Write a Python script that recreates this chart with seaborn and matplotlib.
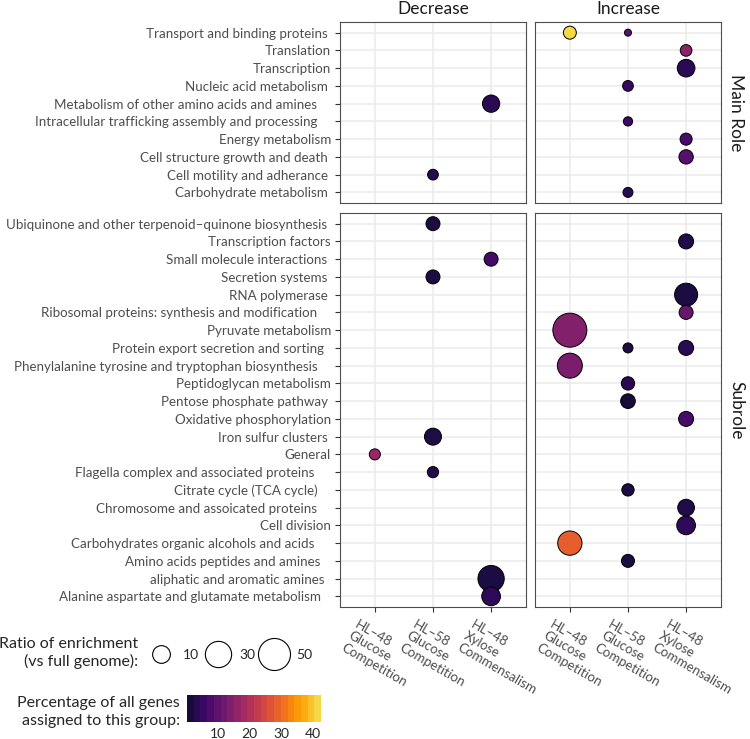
import numpy as np
import pandas as pd
import seaborn as sns
import matplotlib.pyplot as plt
from matplotlib.colors import ListedColormap, Normalize
from matplotlib.cm import ScalarMappable
from matplotlib.lines import Line2D
from matplotlib.transforms import ScaledTranslation

G48 = 'HL–48\nGlucose\nCompetition'
G58 = 'HL–58\nGlucose\nCompetition'
X48 = 'HL–48\nXylose\nCommensalism'
CONDITIONS = [G48, G58, X48]
DIRECTIONS = ['Decrease', 'Increase']

# categories, top to bottom; pads = trailing spaces seen in the tick labels
MAIN_ROLES = ['Transport and binding proteins', 'Translation', 'Transcription',
              'Nucleic acid metabolism', 'Metabolism of other amino acids and amines',
              'Intracellular trafficking assembly and processing', 'Energy metabolism',
              'Cell structure growth and death', 'Cell motility and adherance',
              'Carbohydrate metabolism']
MAIN_PAD = [1, 0, 0, 1, 4, 4, 0, 1, 1, 1]

SUBROLES = ['Ubiquinone and other terpenoid–quinone biosynthesis', 'Transcription factors',
            'Small molecule interactions', 'Secretion systems', 'RNA polymerase',
            'Ribosomal proteins: synthesis and modification', 'Pyruvate metabolism',
            'Protein export secretion and sorting',
            'Phenylalanine tyrosine and tryptophan biosynthesis', 'Peptidoglycan metabolism',
            'Pentose phosphate pathway', 'Oxidative phosphorylation', 'Iron sulfur clusters',
            'General', 'Flagella complex and associated proteins', 'Citrate cycle (TCA cycle)',
            'Chromosome and assoicated proteins', 'Cell division',
            'Carbohydrates organic alcohols and acids', 'Amino acids peptides and amines',
            'aliphatic and aromatic amines', 'Alanine aspartate and glutamate metabolism']
SUB_PAD = [1, 0, 1, 1, 1, 4, 0, 2, 4, 0, 1, 0, 1, 0, 5, 4, 4, 0, 5, 3, 2, 3]

# main role dots
main_group = ['Transport and binding proteins', 'Transport and binding proteins', 'Translation',
              'Transcription', 'Nucleic acid metabolism',
              'Metabolism of other amino acids and amines',
              'Intracellular trafficking assembly and processing', 'Energy metabolism',
              'Cell structure growth and death', 'Cell motility and adherance',
              'Carbohydrate metabolism']
main_dir = ['Increase', 'Increase', 'Increase', 'Increase', 'Increase', 'Decrease',
            'Increase', 'Increase', 'Increase', 'Decrease', 'Increase']
main_cond = [G48, G58, X48, X48, G58, X48, G58, X48, X48, G58, G58]
main_ratio = [3.8, 1.0, 2.7, 9.9, 2.1, 9.3, 1.4, 3.0, 5.2, 2.1, 1.7]
main_pct = [42.4, 8.8, 15.1, 3.0, 4.6, 2.8, 5.1, 6.7, 8.3, 2.2, 2.5]

# subrole dots
sub_group = ['Ubiquinone and other terpenoid–quinone biosynthesis', 'Transcription factors',
             'Small molecule interactions', 'Secretion systems', 'RNA polymerase',
             'Ribosomal proteins: synthesis and modification', 'Pyruvate metabolism',
             'Protein export secretion and sorting', 'Protein export secretion and sorting',
             'Phenylalanine tyrosine and tryptophan biosynthesis', 'Peptidoglycan metabolism',
             'Pentose phosphate pathway', 'Oxidative phosphorylation', 'Iron sulfur clusters',
             'General', 'Flagella complex and associated proteins', 'Citrate cycle (TCA cycle)',
             'Chromosome and assoicated proteins', 'Cell division',
             'Carbohydrates organic alcohols and acids', 'Amino acids peptides and amines',
             'aliphatic and aromatic amines', 'Alanine aspartate and glutamate metabolism']
sub_dir = ['Decrease', 'Increase', 'Decrease', 'Decrease', 'Increase', 'Increase', 'Increase',
           'Increase', 'Increase', 'Increase', 'Increase', 'Increase', 'Increase', 'Decrease',
           'Decrease', 'Decrease', 'Increase', 'Increase', 'Increase', 'Increase', 'Increase',
           'Decrease', 'Decrease']
sub_cond = [G58, X48, X48, G58, X48, X48, G48, G58, X48, G48, G58, G58, X48, G58, G48, G58,
            G58, X48, X48, G48, G58, X48, X48]
sub_ratio = [4.8, 6.0, 4.8, 4.8, 21.0, 4.8, 58.0, 1.7, 6.0, 26.3, 4.1, 5.6, 6.0, 8.8, 2.3, 2.4,
             3.2, 8.4, 11.7, 24.4, 3.8, 30.1, 11.7]
sub_pct = [0.9, 2.0, 6.0, 1.0, 1.2, 10.5, 14.0, 1.5, 3.0, 13.0, 2.8, 0.4, 6.5, 1.4, 16.5, 2.0,
           1.3, 1.6, 3.5, 28.7, 1.1, 1.0, 3.3]

LEGEND_RATIOS = [10, 30, 50]
CBAR_TICKS = [10, 20, 30, 40]


def make_df(groups, dirs, conds, ratios, pcts, cats):
    return pd.DataFrame({
        'group': pd.Categorical(groups, categories=cats),
        'direction': dirs,
        'condition': pd.Categorical(conds, categories=CONDITIONS),
        'ratio': ratios,
        'percent': pcts,
    })


df_main = make_df(main_group, main_dir, main_cond, main_ratio, main_pct, MAIN_ROLES)
df_sub = make_df(sub_group, sub_dir, sub_cond, sub_ratio, sub_pct, SUBROLES)
all_ratio = pd.concat([df_main.ratio, df_sub.ratio])
all_pct = pd.concat([df_main.percent, df_sub.percent])

# ggplot-like size scale: diameter grows with sqrt of the rescaled ratio
r_lo, r_hi = all_ratio.min(), all_ratio.max()
D_MIN, D_MAX = 8, 35  # px, outer diameter
DPI = 100


def marker_area(r):
    d = D_MIN + (D_MAX - D_MIN) * np.sqrt((r - r_lo) / (r_hi - r_lo))
    return ((d - 1) * 72 / DPI) ** 2


size_lookup = {r: marker_area(r) for r in all_ratio.unique()}

inferno = plt.get_cmap('inferno')
cmap = ListedColormap(inferno(np.linspace(0.1, 0.9, 256)))
norm = Normalize(all_pct.min(), all_pct.max())

sns.set_theme(style='whitegrid', rc={
    'grid.color': '#ebebeb', 'grid.linewidth': 1.1,
    'axes.edgecolor': '#4d4d4d', 'axes.linewidth': 0.8,
})
plt.rcParams['font.family'] = ['Lato', 'DejaVu Sans']

fig = plt.figure(figsize=(7.5, 7.39), dpi=DPI)
gs = fig.add_gridspec(2, 2, left=0.4533, right=0.9613, top=0.9702, bottom=0.1786,
                      wspace=0.0484, hspace=0.0348,
                      height_ratios=[len(MAIN_ROLES) + 0.2, len(SUBROLES) + 0.2])

# nudge for the slanted condition labels
label_shift = ScaledTranslation(-16 / DPI, -2 / DPI, fig.dpi_scale_trans)

rows = [(df_main, MAIN_ROLES, MAIN_PAD, 'Main Role'), (df_sub, SUBROLES, SUB_PAD, 'Subrole')]
for i, (df, cats, pads, strip) in enumerate(rows):
    for j, d in enumerate(DIRECTIONS):
        ax = fig.add_subplot(gs[i, j])
        sns.scatterplot(data=df[df.direction == d], x='condition', y='group',
                        hue='percent', size='ratio', palette=cmap, hue_norm=norm,
                        sizes=size_lookup, edgecolor='black', linewidth=0.7,
                        legend=False, ax=ax, zorder=3)
        ax.set_xlim(-0.6, len(CONDITIONS) - 0.4)
        ax.set_ylim(len(cats) - 0.4, -0.6)
        ax.set_xlabel('')
        ax.set_ylabel('')
        ax.set_xticks(range(len(CONDITIONS)))
        ax.set_yticks(range(len(cats)))
        ax.tick_params(length=3.5, width=0.8, color='#333333', pad=3,
                       labelcolor='#4d4d4d')
        if j == 0:
            ax.tick_params(axis='y', left=True)
            ax.set_yticklabels([c + ' ' * p for c, p in zip(cats, pads)], fontsize=9.6)
        else:
            ax.set_yticklabels([])
            ax.annotate(strip, xy=(1, 0.5), xycoords='axes fraction', xytext=(5, 0),
                        textcoords='offset points', rotation=-90, ha='left',
                        va='center', fontsize=12.5, color='#1a1a1a')
        if i == 1:
            ax.tick_params(axis='x', bottom=True)
            ax.set_xticklabels(CONDITIONS, rotation=-30, ha='left', va='top',
                               rotation_mode='anchor', fontsize=9.6, linespacing=1.15)
            for lab in ax.get_xticklabels():
                lab.set_transform(lab.get_transform() + label_shift)
        else:
            ax.set_xticklabels([])
            ax.set_title(d, fontsize=12.5, pad=6, color='#1a1a1a')

# size legend
fig.text(138 / 750, 1 - 653 / 739, 'Ratio of enrichment\n(vs full genome):',
         ha='right', va='center', fontsize=11.5, linespacing=1.3)
handles = [Line2D([], [], marker='o', linestyle='', markerfacecolor='none',
                  markeredgecolor='black', markeredgewidth=0.8,
                  markersize=np.sqrt(marker_area(r))) for r in LEGEND_RATIOS]
fig.legend(handles, [str(r) for r in LEGEND_RATIOS], ncol=3, frameon=False,
           loc='center left', bbox_to_anchor=(150 / 750, 1 - 655 / 739),
           handlelength=1.6, handletextpad=0.8, columnspacing=0.5, fontsize=10,
           borderpad=0, borderaxespad=0)

# colour bar
fig.text(180 / 750, 1 - 712 / 739, 'Percentage of all genes\nassigned to this group:',
         ha='right', va='center', fontsize=11.5, linespacing=1.3)
cax = fig.add_axes([187 / 750, 1 - 722 / 739, 134 / 750, 27 / 739])
bar_cmap = ListedColormap(inferno(np.linspace(0.1, 0.9, 20)))
cb = fig.colorbar(ScalarMappable(norm=norm, cmap=bar_cmap), cax=cax, orientation='horizontal')
cb.outline.set_visible(False)
cb.set_ticks(CBAR_TICKS)
cax.xaxis.set_ticks_position('both')
cax.tick_params(axis='x', direction='in', length=5, width=1, color='white',
                labelbottom=True, labeltop=False, labelsize=10, pad=4)
cax.minorticks_off()

fig.savefig('out.png', dpi=DPI)
